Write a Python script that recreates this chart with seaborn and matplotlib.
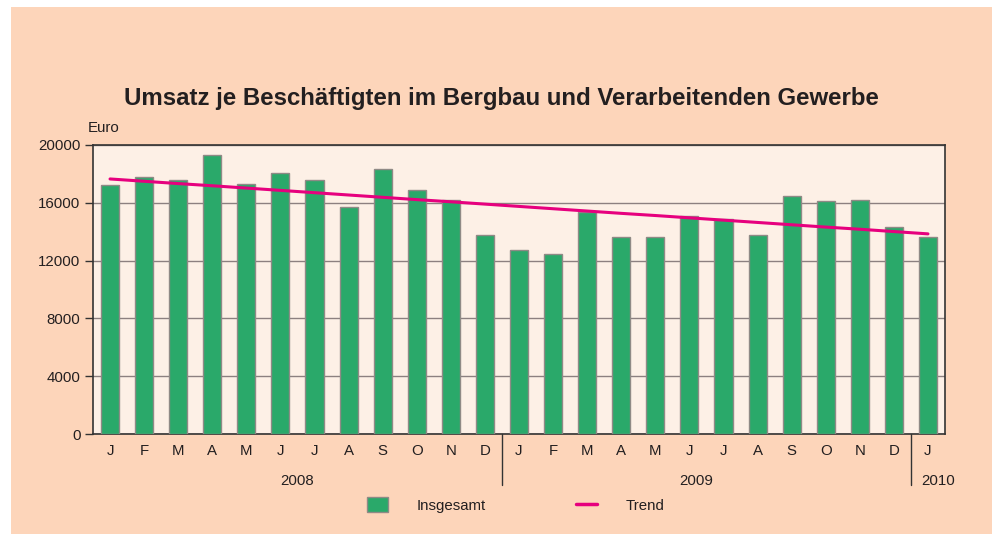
import matplotlib.pyplot as plt
import matplotlib.patches as mpatches
import matplotlib.lines as mlines
import numpy as np
import pandas as pd
import seaborn as sns

# Data
month_letters = ['J', 'F', 'M', 'A', 'M', 'J', 'J', 'A', 'S', 'O', 'N', 'D',
                 'J', 'F', 'M', 'A', 'M', 'J', 'J', 'A', 'S', 'O', 'N', 'D',
                 'J']
month_keys = [f'2008-{m:02d}' for m in range(1, 13)] + \
             [f'2009-{m:02d}' for m in range(1, 13)] + ['2010-01']
umsatz = [17200, 17800, 17600, 19300, 17300, 18050, 17600, 15700, 18350, 16900, 16200, 13750,
          12750, 12480, 15350, 13600, 13600, 15100, 14850, 13800, 16500, 16150, 16200, 14300,
          13600]
trend = [17650, 17490, 17330, 17180, 17020, 16860, 16700, 16540, 16380, 16220, 16070, 15910,
         15750, 15590, 15430, 15270, 15120, 14960, 14800, 14640, 14480, 14320, 14170, 14010,
         13850]
years = ['2008', '2009', '2010']
year_pos = [5.5, 17.2, 24.3]
year_breaks = [11.5, 23.5]
yticks = [0, 4000, 8000, 12000, 16000, 20000]

bg = '#FDD5BA'
panel = '#FDF0E6'
green = '#2AA96A'
pink = '#E6007E'
text_col = '#231F20'

df = pd.DataFrame({'monat': month_keys, 'umsatz': umsatz, 'trend': trend,
                   'pos': np.arange(len(month_keys))})

sns.set_style('white')
plt.rcParams['font.family'] = ['Liberation Sans', 'DejaVu Sans']

fig = plt.figure(figsize=(9.92, 5.34), dpi=100, facecolor='white')
fig.patches.append(mpatches.Rectangle((11 / 992, 0), 1, 1 - 7 / 534, transform=fig.transFigure,
                                      facecolor=bg, edgecolor='none', zorder=-10))
ax = fig.add_axes([93 / 992, 1 - 434 / 534, 852 / 992, 289 / 534])
ax.set_facecolor(panel)

sns.barplot(data=df, x='monat', y='umsatz', color=green, saturation=1, width=0.53,
            edgecolor='#8F8A86', linewidth=1, ax=ax, zorder=3)
sns.lineplot(data=df, x='pos', y='trend', color=pink, linewidth=2.2, ax=ax, zorder=4)

ax.set_xlim(-0.5, len(month_keys) - 0.5)
ax.set_ylim(0, 20000)
ax.set_yticks(yticks)
ax.set_yticklabels([str(v) for v in yticks])
ax.set_xticks(range(len(month_letters)))
ax.set_xticklabels(month_letters)
ax.tick_params(axis='y', length=6, width=1, color='#333333', pad=3, labelsize=10.8,
               labelcolor=text_col, left=True)
ax.tick_params(axis='x', length=0, pad=7.5, labelsize=10.8, labelcolor=text_col)
ax.grid(axis='y', color='#8C8080', linewidth=1, zorder=1)
ax.set_axisbelow(True)
for s in ax.spines.values():
    s.set_color('#333333')
    s.set_linewidth(1.2)
ax.set_xlabel('')
ax.set_ylabel('')

# year separators and labels
for xb in year_breaks:
    ax.plot([xb, xb], [0, -0.176], transform=ax.get_xaxis_transform(), color='#333333',
            linewidth=1, clip_on=False)
for yr, xp in zip(years, year_pos):
    ax.text(xp, -0.163, yr, transform=ax.get_xaxis_transform(), ha='center', va='center',
            fontsize=10.8, color=text_col)

fig.text(88 / 992, 1 - 128 / 534, 'Euro', ha='left', va='center', fontsize=10.8, color=text_col)
fig.text(501 / 992, 1 - 99 / 534, 'Umsatz je Beschäftigten im Bergbau und Verarbeitenden Gewerbe',
         ha='center', va='center', fontsize=17.3, fontweight='bold', color=text_col)

handles = [mpatches.Patch(facecolor=green, edgecolor='#8F8A86', label='Insgesamt'),
           mlines.Line2D([], [], color=pink, linewidth=2.5, label='Trend')]
fig.legend(handles=handles, loc='center', bbox_to_anchor=(516 / 992, 1 - 505 / 534), ncol=2,
           frameon=False, fontsize=10.8, handlelength=1.4, handleheight=1.1,
           handletextpad=1.9, columnspacing=6.0, labelcolor=text_col)

fig.savefig('out.png', dpi=100, facecolor=fig.get_facecolor())
